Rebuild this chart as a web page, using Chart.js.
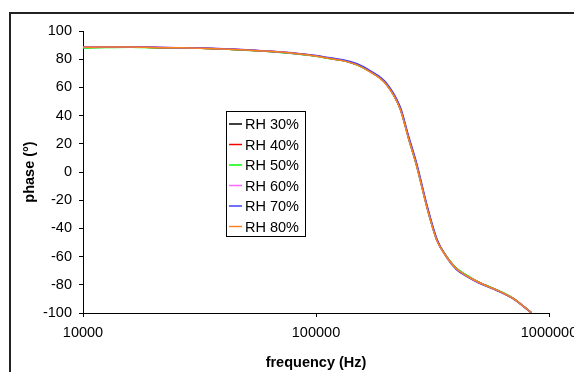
<!DOCTYPE html>
<html>
<head>
<meta charset="utf-8">
<script src="https://cdn.jsdelivr.net/npm/chart.js@4/dist/chart.umd.min.js"></script>
<style>
  html, body { margin: 0; padding: 0; background: #fff; overflow: hidden; }
  #wrap { position: absolute; left: 0; top: 0; width: 620px; height: 372px; }
</style>
</head>
<body>
<div id="wrap"><canvas id="phase-chart" width="620" height="372"></canvas></div>
<script>
// frequency points (Hz)
const freqs = [10000, 12500, 16000, 20000, 25000, 32000, 40000, 50000, 63000, 80000, 100000, 115000, 130000, 150000,
  170000, 200000, 230000, 250000, 270000, 300000, 330000, 360000, 400000, 450000, 500000, 600000, 700000, 840000];

// phase (deg) per humidity
const rh30 = [88.3, 88.5, 88.6, 88.3, 88.0, 87.7, 87.2, 86.5, 85.5, 84.1, 82.2, 80.5, 79.0, 76.0, 71.3, 62.3, 44.6, 23.4, 4.8, -25.6, -48.3, -59.0, -68.3, -74.0, -78.2, -83.9, -89.5, -99.8];
const rh40 = [88.4, 88.6, 88.6, 88.3, 88.1, 87.8, 87.3, 86.6, 85.6, 84.2, 82.3, 80.6, 79.2, 76.2, 71.5, 62.6, 45.0, 24.0, 5.4, -25.0, -48.0, -59.0, -68.5, -74.3, -78.4, -84.0, -89.6, -99.8];
const rh50 = [87.9, 88.3, 88.5, 88.2, 88.0, 87.7, 87.2, 86.4, 85.5, 84.0, 82.1, 80.4, 79.0, 76.0, 71.3, 62.4, 44.8, 23.8, 5.1, -25.3, -48.1, -58.8, -68.2, -73.9, -78.1, -83.8, -89.4, -99.8];
const rh60 = [88.5, 88.7, 88.7, 88.4, 88.2, 87.9, 87.4, 86.7, 85.7, 84.3, 82.4, 80.7, 79.3, 76.3, 71.6, 62.8, 45.3, 24.3, 5.7, -24.8, -47.9, -59.1, -68.7, -74.4, -78.5, -84.1, -89.7, -99.8];
const rh70 = [88.4, 88.6, 88.7, 88.4, 88.2, 87.9, 87.4, 86.7, 85.7, 84.4, 82.6, 81.0, 79.7, 76.8, 72.1, 63.3, 46.0, 25.2, 6.6, -24.0, -47.3, -59.4, -69.1, -74.7, -78.7, -84.2, -89.8, -99.8];
const rh80 = [88.4, 88.6, 88.6, 88.3, 88.1, 87.8, 87.3, 86.6, 85.6, 84.2, 82.2, 80.5, 79.0, 76.0, 71.2, 62.2, 44.5, 23.4, 4.8, -25.5, -48.4, -59.2, -68.6, -74.3, -78.4, -84.0, -89.6, -99.8];

const seriesLabels = ['RH 30%', 'RH 40%', 'RH 50%', 'RH 60%', 'RH 70%', 'RH 80%'];
const seriesValues = [rh30, rh40, rh50, rh60, rh70, rh80];
const seriesColors = ['#000000', '#ff0000', '#00ff00', '#ff66ff', '#4040ff', '#ff8020'];

const xTicks = [10000, 100000, 1000000];

const FONT = 'Arial, "Liberation Sans", sans-serif';

// outer frame + legend box drawn inside plot
const framePlugin = {
  id: 'frame',
  afterDraw(chart) {
    const ctx = chart.ctx;
    ctx.save();
    ctx.strokeStyle = '#222';
    ctx.lineWidth = 2;
    ctx.strokeRect(10, 13, 700, 500);

    // legend
    const bx = 226.5, by = 111.5, bw = 79, bh = 125;
    ctx.fillStyle = '#fff';
    ctx.fillRect(bx, by, bw, bh);
    ctx.strokeStyle = '#000';
    ctx.lineWidth = 1;
    ctx.strokeRect(bx, by, bw, bh);
    ctx.font = '14.5px ' + FONT;
    ctx.textBaseline = 'middle';
    ctx.textAlign = 'left';
    chart.data.datasets.forEach((ds, i) => {
      const y = 124 + i * 20.5;
      ctx.strokeStyle = ds.borderColor;
      ctx.lineWidth = 1.5;
      ctx.beginPath();
      ctx.moveTo(229, y);
      ctx.lineTo(242, y);
      ctx.stroke();
      ctx.fillStyle = '#000';
      ctx.fillText(ds.label, 245, y + 1);
    });
    ctx.restore();
  }
};

new Chart(document.getElementById('phase-chart'), {
  type: 'line',
  data: {
    datasets: seriesLabels.map((lbl, i) => ({
      label: lbl,
      data: freqs.map((f, k) => ({ x: f, y: seriesValues[i][k] })),
      borderColor: seriesColors[i],
      borderWidth: 1.5,
      pointRadius: 0,
      cubicInterpolationMode: 'monotone',
      fill: false,
      order: seriesLabels.length - i,
    }))
  },
  plugins: [framePlugin],
  options: {
    responsive: false,
    animation: false,
    events: [],
    layout: { padding: { top: 31, right: 71, bottom: 0, left: 0 } },
    plugins: { legend: { display: false }, tooltip: { enabled: false } },
    scales: {
      x: {
        type: 'logarithmic',
        min: 10000,
        max: 1000000,
        afterBuildTicks: s => { s.ticks = xTicks.map(v => ({ value: v })); },
        afterFit: s => { s.height = 59; },
        ticks: {
          color: '#000',
          font: { family: FONT, size: 14.5 },
          padding: 7,
          maxRotation: 0,
          autoSkip: false,
          callback: v => String(v)
        },
        grid: { drawOnChartArea: false, drawTicks: true, tickLength: 4, color: '#000' },
        border: { display: true, color: '#000', width: 1 },
        title: {
          display: true,
          text: 'frequency (Hz)',
          color: '#000',
          font: { family: FONT, size: 14.5, weight: 'bold' },
          padding: { top: 1, bottom: 0 }
        }
      },
      y: {
        min: -100,
        max: 100,
        afterFit: s => { s.width = 83; },
        ticks: {
          stepSize: 20,
          color: '#000',
          font: { family: FONT, size: 14.5 },
          padding: 7
        },
        grid: { drawOnChartArea: false, drawTicks: true, tickLength: 4, color: '#000' },
        border: { display: true, color: '#000', width: 1 },
        title: {
          display: true,
          text: 'phase (°)',
          color: '#000',
          font: { family: FONT, size: 14.5, weight: 'bold' },
          padding: { top: 21, bottom: 0 }
        }
      }
    }
  }
});
</script>
</body>
</html>
